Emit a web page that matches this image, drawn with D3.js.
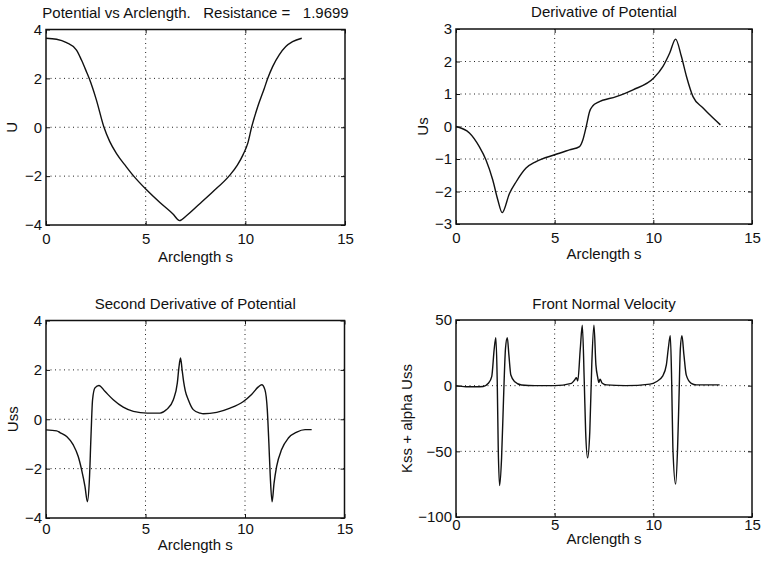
<!DOCTYPE html>
<html><head><meta charset="utf-8">
<script src="https://cdn.jsdelivr.net/npm/d3@7"></script>
<style>
html,body{margin:0;padding:0;background:#fff;}
svg{display:block;font-family:"Liberation Sans",Arial,Helvetica,sans-serif;}
text{fill:#111;}
</style></head><body>
<svg id="chart" width="766" height="564"></svg>
<script>
// ---------- data ----------
const xTicks = [0, 5, 10, 15];
const xLabel = "Arclength s";

const titles = [
  "Potential vs Arclength.   Resistance =   1.9699",
  "Derivative of Potential",
  "Second Derivative of Potential",
  "Front Normal Velocity"
];
const yLabels = ["U", "Us", "Uss", "Kss + alpha Uss"];

const yTicksU   = [-4, -2, 0, 2, 4];
const yTicksUs  = [-3, -2, -1, 0, 1, 2, 3];
const yTicksUss = [-4, -2, 0, 2, 4];
const yTicksV   = [-100, -50, 0, 50];

// Potential U vs arclength s
const sU = [0,0.53,1.03,1.53,1.78,2.03,2.17,2.53,2.9,3.2,3.53,4.03,4.4,5.03,5.7,6.37,6.7,7.03,7.7,8.37,9.2,9.6,9.9,10.12,10.32,10.62,10.95,11.12,11.37,11.7,12.03,12.37,12.83];
const U  = [3.64,3.6,3.46,3.16,2.75,2.27,1.99,1.11,0.02,-0.59,-1.07,-1.62,-2.0,-2.55,-3.07,-3.55,-3.82,-3.63,-3.14,-2.64,-1.98,-1.55,-1.1,-0.66,0.02,0.84,1.59,1.99,2.48,2.96,3.3,3.5,3.64];

// Derivative Us
const sUs = [0,0.68,1.18,1.52,1.86,2.12,2.34,2.71,3.05,3.55,4.06,5.0,5.75,6.26,6.43,6.6,6.77,6.94,7.19,8.12,8.97,10.02,10.49,10.83,11.13,11.42,11.68,12.01,12.52,13.03,13.4];
const Us  = [0,-0.2,-0.62,-1.03,-1.64,-2.26,-2.65,-2.06,-1.7,-1.28,-1.08,-0.87,-0.72,-0.62,-0.41,0,0.46,0.64,0.74,0.92,1.13,1.49,1.85,2.26,2.69,2.16,1.54,0.92,0.57,0.26,0.05];

// Second derivative Uss
const sUss = [0,0.54,0.7,1.04,1.37,1.62,1.79,1.96,2.08,2.18,2.26,2.34,2.46,2.66,2.96,3.38,3.88,4.39,5.09,5.73,6.06,6.4,6.6,6.68,6.76,6.84,6.92,7.0,7.15,7.4,7.74,7.91,8.58,9.25,9.92,10.33,10.67,10.84,11.0,11.12,11.2,11.27,11.36,11.46,11.59,11.84,12.18,12.6,13.02,13.35];
const Uss  = [-0.43,-0.47,-0.54,-0.7,-1.04,-1.51,-2.05,-2.73,-3.34,-2.46,-0.7,0.79,1.27,1.37,1.13,0.79,0.49,0.32,0.25,0.25,0.39,0.79,1.47,2.1,2.48,2.0,1.5,1.15,0.79,0.39,0.25,0.22,0.28,0.45,0.72,1.0,1.31,1.4,1.2,0.39,-0.97,-2.32,-3.34,-2.59,-1.91,-1.23,-0.76,-0.52,-0.42,-0.42];

// Front normal velocity
const sV = [0,0.5,1.0,1.38,1.64,1.81,1.94,2.02,2.09,2.14,2.21,2.31,2.41,2.51,2.6,2.68,2.78,2.98,3.32,4.0,5.0,5.85,6.02,6.1,6.17,6.3,6.4,6.5,6.57,6.67,6.78,6.88,6.99,7.09,7.18,7.24,7.3,7.4,7.63,8.6,9.83,10.15,10.48,10.66,10.76,10.86,10.93,10.99,11.13,11.23,11.3,11.37,11.45,11.55,11.67,11.92,12.18,13.36];
const V  = [0,-0.8,-0.8,-0.6,1.8,6.9,28.5,36.6,3,-47,-76,-55,-9.4,28.7,36.6,23.4,8.1,3,0.5,0,0,1.8,4.5,6,3.5,28.5,46,3,-35,-55,-35,15.8,46,15.8,6.5,2.5,5,2,0.6,0,1.2,3,7.5,15.8,28.5,38,3,-47,-75,-47,-9.4,28.5,38,23.4,8,1.8,0.6,0.6];

// ---------- layout ----------
const panels = [
  {x0:46,  x1:345, y0:29.5, y1:225, yDom:[-4,4],    yTicks:yTicksU,   s:sU,   v:U,   titleY:18,  tickY:19, xlabY:262, ylabX:17},
  {x0:456, x1:752, y0:29,   y1:224, yDom:[-3,3],    yTicks:yTicksUs,  s:sUs,  v:Us,  titleY:17,  tickY:19, xlabY:259, ylabX:428},
  {x0:46,  x1:344.5, y0:320.5, y1:518, yDom:[-4,4], yTicks:yTicksUss, s:sUss, v:Uss, titleY:309, tickY:16, xlabY:550, ylabX:18},
  {x0:456, x1:752, y0:320, y1:517,  yDom:[-100,50], yTicks:yTicksV,   s:sV,   v:V,   titleY:309, tickY:13, xlabY:544, ylabX:412}
];

const svg = d3.select("#chart");
const FS = 15;
const fmt = d3.format("d");

panels.forEach((p, i) => {
  const x = d3.scaleLinear().domain([0, 15]).range([p.x0, p.x1]);
  const y = d3.scaleLinear().domain(p.yDom).range([p.y1, p.y0]);
  const g = svg.append("g");

  // grid
  g.selectAll(".gx").data(xTicks.filter(t => t > 0 && t < 15)).join("line")
    .attr("x1", d => x(d)).attr("x2", d => x(d)).attr("y1", p.y0).attr("y2", p.y1)
    .attr("stroke", "#222").attr("stroke-width", 1).attr("stroke-dasharray", "1,3.5");
  g.selectAll(".gy").data(p.yTicks.filter(t => t > p.yDom[0] && t < p.yDom[1])).join("line")
    .attr("y1", d => y(d)).attr("y2", d => y(d)).attr("x1", p.x0).attr("x2", p.x1)
    .attr("stroke", "#222").attr("stroke-width", 1).attr("stroke-dasharray", "1,3.5");

  // axes (ticks inward)
  const ax = g.append("g").attr("transform", `translate(0,${p.y1})`)
    .call(d3.axisBottom(x).tickValues(xTicks).tickFormat(fmt).tickSize(-4).tickSizeOuter(0));
  ax.selectAll("text").attr("y", p.tickY).attr("dy", null);
  g.append("g").attr("transform", `translate(${p.x0},0)`)
    .call(d3.axisLeft(y).tickValues(p.yTicks).tickFormat(fmt).tickSize(-4).tickSizeOuter(0).tickPadding(4));
  g.append("g").attr("transform", `translate(0,${p.y0})`)
    .call(d3.axisTop(x).tickValues(xTicks).tickSize(-4).tickSizeOuter(0).tickFormat(""));
  g.append("g").attr("transform", `translate(${p.x1},0)`)
    .call(d3.axisRight(y).tickValues(p.yTicks).tickSize(-4).tickSizeOuter(0).tickFormat(""));
  g.selectAll(".domain").remove();
  g.selectAll("g").attr("font-size", null).attr("font-family", null);
  g.selectAll(".tick line").attr("stroke", "#111");
  g.selectAll(".tick text").attr("font-size", FS).attr("fill", "#111");

  // box
  g.append("rect").attr("x", p.x0).attr("y", p.y0)
    .attr("width", p.x1 - p.x0).attr("height", p.y1 - p.y0)
    .attr("fill", "none").attr("stroke", "#111").attr("stroke-width", 1.5);

  // curve
  const line = d3.line().x(d => x(d[0])).y(d => y(d[1])).curve(d3.curveMonotoneX);
  g.append("path").datum(p.s.map((s, k) => [s, p.v[k]]))
    .attr("d", line).attr("fill", "none").attr("stroke", "#111").attr("stroke-width", 1.4);

  // title
  g.append("text").attr("x", (p.x0 + p.x1) / 2).attr("y", p.titleY)
    .attr("text-anchor", "middle").attr("font-size", FS).style("white-space", "pre")
    .text(titles[i]);
  // x label
  g.append("text").attr("x", (p.x0 + p.x1) / 2).attr("y", p.xlabY)
    .attr("text-anchor", "middle").attr("font-size", FS).text(xLabel);
  // y label
  g.append("text").attr("transform", `translate(${p.ylabX},${(p.y0 + p.y1) / 2}) rotate(-90)`)
    .attr("text-anchor", "middle").attr("font-size", FS).text(yLabels[i]);
});
</script>
</body></html>
